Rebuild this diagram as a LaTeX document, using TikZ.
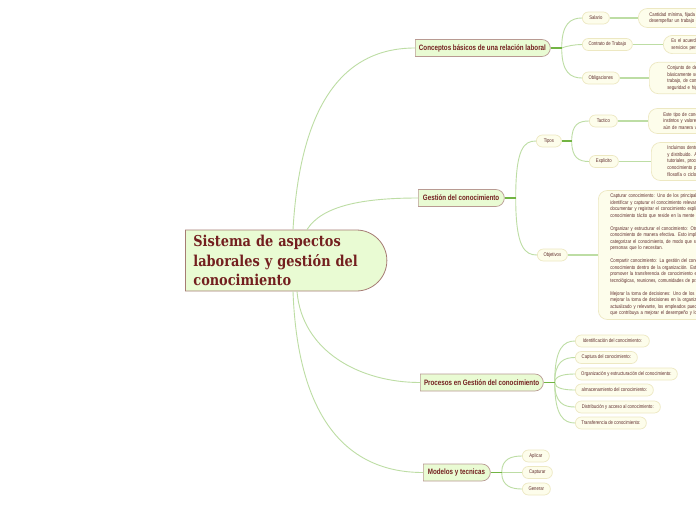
\documentclass[tikz,border=0pt]{standalone}
\usepackage{fontspec}
\usetikzlibrary{shapes.misc}
\newfontfamily\titlefont{DejaVu Serif}[FakeStretch=0.86,BoldFont={DejaVu Serif Bold}]
\newfontfamily\condfont{Liberation Sans}[FakeStretch=0.8]
\newfontfamily\branchfont{Liberation Sans}[FakeStretch=0.8]
\definecolor{mainfill}{HTML}{E9FBD3}
\definecolor{mainborder}{HTML}{A67C74}
\definecolor{branchborder}{HTML}{B89A92}
\definecolor{maroon}{HTML}{731F1F}
\definecolor{brownish}{HTML}{5E2B2B}
\definecolor{pillfill}{HTML}{FDFDEB}
\definecolor{pillborder}{HTML}{EDE8C2}
\definecolor{connlight}{HTML}{BDDDA4}
\definecolor{conndark}{HTML}{72B443}
\begin{document}
\begin{tikzpicture}[x=1pt,y=-1pt,
  central/.style={rounded rectangle, rounded rectangle left arc=none, draw=mainborder, fill=mainfill, line width=0.8pt,
    font=\titlefont\bfseries\fontsize{15}{19.5}\selectfont, text=maroon, align=left, text width=172pt,
    inner xsep=8pt, inner ysep=2pt, minimum height=61pt, anchor=west},
  branch/.style={rounded rectangle, rounded rectangle left arc=none, draw=branchborder, fill=mainfill, line width=0.7pt,
    font=\branchfont\bfseries\fontsize{7.8}{9}\selectfont, text=maroon, minimum height=17pt, inner xsep=3pt, anchor=west},
  pill/.style={rounded rectangle, draw=pillborder, fill=pillfill, line width=0.7pt,
    font=\condfont\fontsize{5.3}{6.5}\selectfont, text=brownish, minimum height=12pt, inner xsep=2pt, anchor=west},
  infobox/.style={rectangle, rounded corners=9pt, draw=pillborder, fill=pillfill, line width=0.7pt,
    font=\condfont\fontsize{5.3}{6.6}\selectfont, text=brownish, align=left, text width=330pt, anchor=west},
  conn/.style={draw=connlight, line width=0.9pt},
  link/.style={draw=connlight, line width=1.2pt},
  stub/.style={draw=conndark, line width=1.3pt}
]
\useasboundingbox[fill=white] (0,0) rectangle (696,520);

% central
\node[central] (c) at (185,260.5) {Sistema de aspectos\\laborales y gestión del\\conocimiento};

% branches
\node[branch, minimum width=141pt] (b1) at (415,48) {Conceptos básicos de una relación laboral};
\node[branch, minimum width=92pt] (b2) at (418,198) {Gestión del conocimiento};
\node[branch, minimum width=129pt] (b3) at (420,382.5) {Procesos en Gestión del conocimiento};
\node[branch, minimum width=73pt] (b4) at (423,472.5) {Modelos y tecnicas};

% level 2
\node[pill, minimum width=31pt] (s1) at (582,18) {Salario};
\node[pill, minimum width=54pt] (s2) at (582,44.5) {Contrato de Trabajo};
\node[pill, minimum width=41pt] (s3) at (582,78) {Obligaciones};
\node[pill, minimum width=29pt] (g1) at (536,141) {Tipos};
\node[pill, minimum width=34pt] (g2) at (537,255) {Objetivos};
\node[pill, minimum width=32pt] (t1) at (589,121) {Tactico};
\node[pill, minimum width=33pt] (t2) at (589,161.5) {Explicito};
\node[pill, minimum width=78pt] (p1) at (575,341) {Identificación del conocimiento:};
\node[pill, minimum width=66pt] (p2) at (575,357.5) {Captura del conocimiento:};
\node[pill, minimum width=106pt] (p3) at (575,374) {Organización y estructuración del conocimiento:};
\node[pill, minimum width=82pt] (p4) at (575,390) {almacenamiento del conocimiento:};
\node[pill, minimum width=89pt] (p5) at (575,407) {Distribución y acceso al conocimiento:};
\node[pill, minimum width=75pt] (p6) at (575,423) {Transferencia de conocimiento:};
\node[pill, minimum width=31pt] (m1) at (522,456) {Aplicar};
\node[pill, minimum width=34pt] (m2) at (522,472.5) {Capturar};
\node[pill, minimum width=32pt] (m3) at (522,489) {Generar};

% level 3 boxes
\node[infobox, minimum height=19pt, inner xsep=11pt] (i1) at (638,18) {Cantidad mínima, fijada por ley, que recibe un trabajador por\\desempeñar un trabajo en un periodo determinado.};
\node[infobox, minimum height=17pt, inner xsep=8pt] (i2) at (663,44.5) {Es el acuerdo por el cual una persona se obliga a prestar\\servicios personales a otra.};
\node[infobox, minimum height=31pt, inner xsep=18pt] (i3) at (649,78) {Conjunto de deberes del empleador y del trabajador, que\\básicamente son cumplir las condiciones del contrato de\\trabajo, de conformidad con las normas de\\seguridad e higiene.};
\node[infobox, minimum height=25pt, inner xsep=15pt] (i4) at (648,121) {Este tipo de conocimiento es el que se basa en experiencias,\\instintos y valores, por lo que es difícil de transmitir,\\aún de manera verbal.};
\node[infobox, minimum height=37pt, inner xsep=16pt] (i5) at (651,161.5) {Incluimos dentro de este tipo el que puede ser articulado, codificado\\y distribuido. Algunos ejemplos son manuales, documentos,\\tutoriales, procedimientos o videos. Es decir, todo\\conocimiento plasmado que pueda transmitirse, como la\\filosofía o ciclo de vida de un producto.};
\node[infobox, minimum height=129pt, inner xsep=12pt, font=\condfont\fontsize{5.3}{6.5}\selectfont] (i6) at (598,255) {Capturar conocimiento: Uno de los principales objetivos de la gestión del conocimiento es\\
identificar y capturar el conocimiento relevante para la organización. Esto implica\\
documentar y registrar el conocimiento explícito, así como también capturar el\\
conocimiento tácito que reside en la mente de los empleados.\\[6.5pt]
Organizar y estructurar el conocimiento: Otro objetivo es organizar y estructurar el\\
conocimiento de manera efectiva. Esto implica crear sistemas y procesos para clasificar\\
categorizar el conocimiento, de modo que sea fácilmente accesible para las\\
personas que lo necesitan.\\[6.5pt]
Compartir conocimiento: La gestión del conocimiento busca fomentar el intercambio de\\
conocimiento dentro de la organización. Esto implica crear una cultura de colaboración\\
promover la transferencia de conocimiento entre los empleados, a través de herramientas\\
tecnológicas, reuniones, comunidades de práctica, entre otros.\\[6.5pt]
Mejorar la toma de decisiones: Uno de los beneficios de la gestión del conocimiento es\\
mejorar la toma de decisiones en la organización. Al tener acceso a conocimiento\\
actualizado y relevante, los empleados pueden tomar decisiones más informadas\\
que contribuya a mejorar el desempeño y los resultados.};

% main connectors
\draw[conn] ([xshift=108pt]c.north west) .. controls +(7,-120) and +(-75,0) .. (b1.west);
\draw[conn] ([xshift=122pt]c.north west) .. controls +(15,-24) and +(-55,0) .. (b2.west);
\draw[conn] ([xshift=112pt]c.south west) .. controls +(5,60) and +(-60,0) .. (b3.west);
\draw[conn] ([xshift=108pt]c.south west) .. controls +(5,135) and +(-70,0) .. (b4.west);

% forks
\coordinate (f1) at ([xshift=11pt]b1.east);
\coordinate (f2) at ([xshift=11pt]b2.east);
\coordinate (f3) at ([xshift=11pt]b3.east);
\coordinate (f4) at ([xshift=11pt]b4.east);
\coordinate (ft) at ([xshift=10pt]g1.east);

\draw[conn] (f1) .. controls +(0,-25) and +(-11,0) .. (s1.west);
\draw[conn] (f1) .. controls +(5,-2) and +(-7,0) .. (s2.west);
\draw[conn] (f1) .. controls +(0,25) and +(-11,0) .. (s3.west);

\draw[conn] (f2) .. controls +(0,-50) and +(-12,0) .. (g1.west);
\draw[conn] (f2) .. controls +(0,50) and +(-12,0) .. (g2.west);

\draw[conn] (ft) .. controls +(0,-17) and +(-10,0) .. (t1.west);
\draw[conn] (ft) .. controls +(0,17) and +(-10,0) .. (t2.west);

\draw[conn] (f3) .. controls +(0,-35) and +(-11,0) .. (p1.west);
\draw[conn] (f3) .. controls +(0,-21) and +(-11,0) .. (p2.west);
\draw[conn] (f3) .. controls +(0,-7) and +(-10,0) .. (p3.west);
\draw[conn] (f3) .. controls +(0,6) and +(-10,0) .. (p4.west);
\draw[conn] (f3) .. controls +(0,21) and +(-11,0) .. (p5.west);
\draw[conn] (f3) .. controls +(0,34) and +(-11,0) .. (p6.west);

\draw[conn] (f4) .. controls +(0,-14) and +(-10,0) .. (m1.west);
\draw[conn] (f4) -- (m2.west);
\draw[conn] (f4) .. controls +(0,14) and +(-10,0) .. (m3.west);

\draw[stub] (b1.east) -- (f1);
\draw[stub] (b2.east) -- (f2);
\draw[stub] (b3.east) -- (f3);
\draw[stub] (b4.east) -- (f4);
\draw[stub] (g1.east) -- (ft);

% links to info boxes
\draw[link] (s1.east) -- (i1.west);
\draw[link] (s2.east) -- (i2.west);
\draw[link] (s3.east) -- (i3.west);
\draw[link] (t1.east) -- (i4.west);
\draw[link] (t2.east) -- (i5.west);
\draw[link] (g2.east) -- (i6.west);
\end{tikzpicture}
\end{document}
